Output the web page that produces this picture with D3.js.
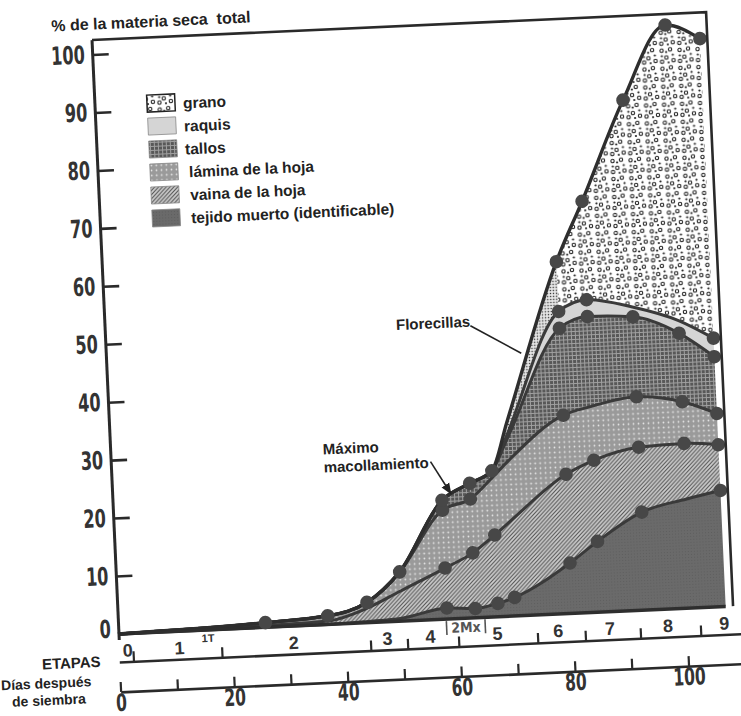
<!DOCTYPE html>
<html><head><meta charset="utf-8">
<script src="https://cdn.jsdelivr.net/npm/d3@7"></script>
<style>
html,body{margin:0;padding:0;background:#fff;}
svg{display:block;}
</style></head>
<body>
<svg id="chart" width="741" height="716"></svg>
<script>
// ---------- data ----------
const days          = [0, 26, 37, 44, 50, 58, 63, 67, 70, 80, 85, 93, 101, 107];
const tejidoMuerto  = [0, 0, 0, 0.2, 0.5, 1.9, 1.6, 2.3, 3.2, 8.7, 12.2, 16.9, 18.8, 20.0];
const vainaHoja     = [0, 0.3, 0.6, 2.3, 4.7, 6.9, 9.6, 11.8, 13.3, 15.3, 14.0, 11.2, 9.6, 7.9];
const laminaHoja    = [0, 0.5, 0.9, 1.0, 3.3, 10.0, 9.3, 9.9, 10.3, 10.2, 9.3, 8.7, 7.2, 5.4];
const tallos        = [0, 0, 0, 0, 0, 1.7, 2.7, 1.2, 3.9, 15.0, 15.5, 13.8, 11.8, 9.8];
const raquis        = [0, 0, 0, 0, 0, 0, 0, 0, 0.7, 2.9, 2.9, 1.7, 2.2, 3.2];
const florecillas   = [null, null, null, null, null, null, null, 0, 2.0, 8.6, null, null, null, null];
const grano         = [null, null, null, null, null, null, null, null, null, 8.6, 17.0, 35.7, 51.0, 51.7];

const dotsTejido = [58, 63, 67, 70, 80, 85, 93, 107];
const dotsVaina  = [58, 63, 67, 80, 85, 93, 101, 107];
const dotsLamina = [58, 63, 80, 93, 101, 107];
const dotsTallos = [80, 85, 93, 101, 107];
const dotsRaquis = [80, 85, 107];
const dotsTotal  = [26, 37, 44, 50, 58, 63, 67, 80, 85, 93, 101, 107];

const yTicks   = [0, 10, 20, 30, 40, 50, 60, 70, 80, 90, 100];
const dayTicks = [0, 10, 20, 30, 40, 50, 60, 70, 80, 90, 100, 110];
const dayLabels = [0, 20, 40, 60, 80, 100];

const stageLabels = ["0", "1", "2", "3", "4", "5", "6", "7", "8", "9"];
const stageLabelDays = [1.6, 10.7, 30.8, 47.3, 54.9, 66.7, 77.4, 86.5, 96.7, 106.6];
const stageTicks = [2.5, 18.1, 44.3, 50.8, 59.8, 73.7, 82.1, 91.8, 102.4];

const legendLabels = ["grano", "raquis", "tallos", "lámina de la hoja", "vaina de la hoja", "tejido muerto (identificable)"];

// ---------- scales ----------
const x = d3.scaleLinear().domain([0, 110]).range([118, 118 + 110 * 5.685]);
const y = d3.scaleLinear().domain([0, 100]).range([634, 54]);

const svg = d3.select("#chart");
const defs = svg.append("defs");

function pat(id, w, h, bg, draw) {
  const p = defs.append("pattern").attr("id", id).attr("patternUnits", "userSpaceOnUse")
    .attr("width", w).attr("height", h);
  if (bg) p.append("rect").attr("width", w).attr("height", h).attr("fill", bg);
  if (draw) draw(p);
}
pat("pGrano", 18, 18, "#fff", p => {
  [[3.5,4],[12,3],[8,11],[15,14],[3.5,15]].forEach(([cx,cy]) =>
    p.append("circle").attr("cx",cx).attr("cy",cy).attr("r",1.7).attr("fill","none").attr("stroke","#222").attr("stroke-width",1.1));
  [[8,5.5],[14.5,8.5],[3.5,9.5],[10,16]].forEach(([cx,cy]) =>
    p.append("circle").attr("cx",cx).attr("cy",cy).attr("r",1.1).attr("fill","#222"));
});
pat("pRaquis", 4, 4, "#d5d5d5");
pat("pTallos", 4, 4, "#585858", p => {
  p.append("path").attr("d","M0 0.5H4M0.5 0V4").attr("stroke","#a0a0a0").attr("stroke-width",1);
});
pat("pLamina", 5, 5, "#9a9a9a", p => {
  p.append("circle").attr("cx",2.5).attr("cy",2.5).attr("r",0.9).attr("fill","#e6e6e6");
});
pat("pVaina", 4, 4, "#d0d0d0", p => {
  p.append("path").attr("d","M-1,1 l2,-2 M0,4 l4,-4 M3,5 l2,-2").attr("stroke","#505050").attr("stroke-width",1.1);
});
pat("pTejido", 3, 3, "#6a6a6a", p => {
  p.append("rect").attr("x",1).attr("y",1).attr("width",1).attr("height",1).attr("fill","#5e5e5e");
});
pat("pFlor", 3, 3, "#e4e4e4", p => {
  p.append("circle").attr("cx",1.5).attr("cy",1.5).attr("r",0.75).attr("fill","#333");
});

// ---------- stacking ----------
const layers = [tejidoMuerto, vainaHoja, laminaHoja, tallos, raquis];
const rows = days.map((d, i) => {
  const b = [0];
  layers.forEach((arr, k) => b.push(b[k] + arr[i]));
  const top = grano[i] != null ? grano[i] : (florecillas[i] != null ? florecillas[i] : 0);
  b.push(b[5] + top);
  return { day: d, b };
});

const g = svg.append("g").attr("transform", "rotate(-2.6 118 634)");

defs.append("clipPath").attr("id", "clipFlor").append("rect")
  .attr("x", 0).attr("y", 0).attr("width", x(80)).attr("height", 716);

const curve = d3.curveMonotoneX;
const areaK = k => d3.area().curve(curve).x(r => x(r.day)).y0(r => y(r.b[k])).y1(r => y(r.b[k + 1]));
const fills = ["url(#pTejido)", "url(#pVaina)", "url(#pLamina)", "url(#pTallos)", "url(#pRaquis)"];
fills.forEach((f, k) => g.append("path").attr("d", areaK(k)(rows)).attr("fill", f));
g.append("path").attr("d", areaK(5)(rows)).attr("fill", "url(#pGrano)");
g.append("path").attr("d", areaK(5)(rows)).attr("fill", "url(#pFlor)").attr("clip-path", "url(#clipFlor)");

// boundary lines
const lineK = k => d3.line().curve(curve).x(r => x(r.day)).y(r => y(r.b[k]));
[1, 2, 3, 4, 5].forEach(k => g.append("path").attr("d", lineK(k)(rows))
  .attr("fill", "none").attr("stroke", "#3a3a3a").attr("stroke-width", 3));
g.append("path").attr("d", lineK(6)(rows)).attr("fill", "none").attr("stroke", "#2e2e2e").attr("stroke-width", 3.4);
g.append("line").attr("x1", x(0)).attr("x2", x(107)).attr("y1", y(0)).attr("y2", y(0))
  .attr("stroke", "#2e2e2e").attr("stroke-width", 3.5);

// dots
const dotSets = [[1, dotsTejido], [2, dotsVaina], [3, dotsLamina], [4, dotsTallos], [5, dotsRaquis], [6, dotsTotal]];
dotSets.forEach(([k, list]) => {
  list.forEach(d => {
    const r = rows.find(rr => rr.day === d);
    g.append("circle").attr("cx", x(d)).attr("cy", y(r.b[k])).attr("r", 6.8).attr("fill", "#474747");
  });
});

// ---------- frame & y axis ----------
const frameRight = x(108.3);
g.append("path").attr("d", `M${x(0)+1},${y(102.5)}H${frameRight}V${y(0)}`)
  .attr("fill", "none").attr("stroke", "#2a2a2a").attr("stroke-width", 2.6);
g.append("line").attr("x1", x(0)+1).attr("x2", x(0)+1).attr("y1", y(102.5)).attr("y2", y(0) + 6)
  .attr("stroke", "#2a2a2a").attr("stroke-width", 3);

const condensed = "'Liberation Sans Narrow','DejaVu Sans Condensed','Liberation Sans',sans-serif";
const yAxis = d3.axisLeft(y).tickValues(yTicks).tickSizeInner(-16).tickSizeOuter(0).tickPadding(8);
const ya = g.append("g").attr("transform", `translate(${x(0)+1},0)`).call(yAxis);
ya.select(".domain").remove();
ya.selectAll(".tick line").attr("stroke", "#2a2a2a").attr("stroke-width", 2.6);
ya.selectAll(".tick text").attr("font-family", condensed)
  .attr("font-weight", "bold").attr("font-size", 25).attr("fill", "#333")
  .attr("textLength", d => String(d).length * 11.2).attr("lengthAdjust", "spacingAndGlyphs")
  .attr("y", d => d === 0 ? -5 : 0);

g.append("text").attr("x", 79).attr("y", 29).text("% de la materia seca  total")
  .attr("font-family", "'Liberation Sans',Arial,sans-serif").attr("font-weight", "bold")
  .attr("font-size", 16).attr("fill", "#222").style("white-space", "pre");

// ---------- legend ----------
const legendFills = ["url(#pGrano)", "url(#pRaquis)", "url(#pTallos)", "url(#pLamina)", "url(#pVaina)", "url(#pTejido)"];
legendLabels.forEach((lab, i) => {
  const ly = 97 + i * 23;
  g.append("rect").attr("x", 171).attr("y", ly).attr("width", 28).attr("height", 17)
    .attr("fill", legendFills[i]).attr("stroke", i === 0 ? "#222" : "#888").attr("stroke-width", i === 0 ? 1.5 : 0.8);
  g.append("text").attr("x", 207 + (i >= 3 ? 3 : 0)).attr("y", ly + 15).text(lab)
    .attr("font-family", "'Liberation Sans',Arial,sans-serif").attr("font-weight", "bold")
    .attr("font-size", 15.5).attr("fill", "#222");
});

// ---------- annotations ----------
const annFont = s => s.attr("font-family", "'Liberation Sans',Arial,sans-serif").attr("font-weight", "bold")
  .attr("font-size", 15).attr("fill", "#222");
g.append("text").attr("x", 331).attr("y", 464).text("Máximo").call(annFont);
g.append("text").attr("x", 331).attr("y", 482).text("macollamiento").call(annFont);
defs.append("marker").attr("id", "arr").attr("viewBox", "0 0 10 10").attr("refX", 9).attr("refY", 5)
  .attr("markerWidth", 7).attr("markerHeight", 7).attr("orient", "auto")
  .append("path").attr("d", "M0,1L10,5L0,9Z").attr("fill", "#222");
g.append("line").attr("x1", 438).attr("y1", 476).attr("x2", x(59.6)).attr("y2", y(21.6))
  .attr("stroke", "#222").attr("stroke-width", 1.6).attr("marker-end", "url(#arr)");

g.append("text").attr("x", 484).attr("y", 343).attr("text-anchor", "end").text("Florecillas").call(annFont);
g.append("line").attr("x1", 484).attr("y1", 342).attr("x2", x(73.1)).attr("y2", y(45.2))
  .attr("stroke", "#222").attr("stroke-width", 1.6);

// ---------- stage axis (ETAPAS) ----------
const stageAxis = d3.axisBottom(x).tickValues(stageTicks).tickSizeInner(-10).tickSizeOuter(0).tickFormat("");
const sa = g.append("g").attr("transform", "translate(0,662)").call(stageAxis);
sa.select(".domain").attr("stroke", "#2a2a2a").attr("stroke-width", 2.6);
sa.selectAll(".tick line").attr("stroke", "#2a2a2a").attr("stroke-width", 2.2);
stageLabels.forEach((s, i) => {
  g.append("text").attr("x", x(stageLabelDays[i])).attr("y", 657).attr("text-anchor", "middle").text(s)
    .attr("font-family", "'Liberation Sans',Arial,sans-serif").attr("font-weight", "bold")
    .attr("font-size", 18).attr("fill", "#333");
});
g.append("text").attr("x", x(15.8)).attr("y", 646).attr("text-anchor", "middle").text("1T")
  .attr("font-family", "'Liberation Sans',Arial,sans-serif").attr("font-weight", "bold").attr("font-size", 11).attr("fill", "#333");
g.append("text").attr("x", x(61.2)).attr("y", 648).attr("text-anchor", "middle").text("2Mx")
  .attr("font-family", condensed).attr("font-weight", "bold")
  .attr("font-size", 14).attr("fill", "#555");
[57.8, 64.6].forEach(d => g.append("line").attr("x1", x(d)).attr("x2", x(d)).attr("y1", 636).attr("y2", 650)
  .attr("stroke", "#555").attr("stroke-width", 1.6));
g.append("text").attr("x", 70).attr("y", 666).attr("text-anchor", "middle").text("ETAPAS")
  .attr("font-family", "'Liberation Sans',Arial,sans-serif").attr("font-weight", "bold").attr("font-size", 15).attr("fill", "#222");

// ---------- days axis ----------
const dayAxis = d3.axisBottom(x).tickValues(dayTicks).tickSizeInner(-10).tickSizeOuter(0).tickPadding(6)
  .tickFormat(d => dayLabels.includes(d) ? d : "");
const da = g.append("g").attr("transform", "translate(0,692)").call(dayAxis);
da.select(".domain").attr("stroke", "#2a2a2a").attr("stroke-width", 2.6);
da.selectAll(".tick line").attr("stroke", "#2a2a2a").attr("stroke-width", 2.2);
da.selectAll(".tick text").attr("font-family", condensed)
  .attr("font-weight", "bold").attr("font-size", 24).attr("fill", "#333")
  .attr("y", 19).attr("dy", 0)
  .attr("textLength", d => dayLabels.includes(d) ? String(d).length * 10.8 : null)
  .attr("lengthAdjust", "spacingAndGlyphs");
g.append("text").attr("x", 44).attr("y", 685).attr("text-anchor", "middle").text("Días después")
  .attr("font-family", "'Liberation Sans',Arial,sans-serif").attr("font-weight", "bold").attr("font-size", 14).attr("fill", "#222");
g.append("text").attr("x", 46).attr("y", 702).attr("text-anchor", "middle").text("de siembra")
  .attr("font-family", "'Liberation Sans',Arial,sans-serif").attr("font-weight", "bold").attr("font-size", 14).attr("fill", "#222");
</script>
</body></html>
